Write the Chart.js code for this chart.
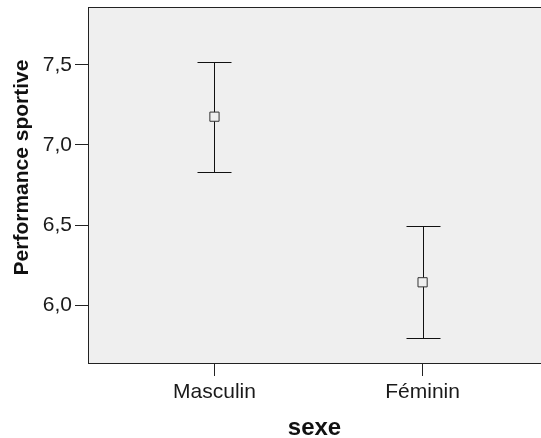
<!DOCTYPE html>
<html>
<head>
<meta charset="utf-8">
<script src="https://cdn.jsdelivr.net/npm/chart.js@4"></script>
<style>
  html, body { margin: 0; padding: 0; background: #fff; }
  #wrap { width: 541px; height: 438px; }
</style>
</head>
<body>
<div id="wrap"><canvas id="errChart"></canvas></div>
<script>
const categories = ['Masculin', 'Féminin'];
const means = [7.177, 6.142];
const upper = [7.52, 6.494];
const lower = [6.833, 5.794];
const yTicks = [6.0, 6.5, 7.0, 7.5];

const FONT = 'Arial, "Liberation Sans", sans-serif';

// gray plot area with a box around it
const plotBox = {
  id: 'plotBox',
  beforeDatasetsDraw(chart) {
    const { ctx, chartArea: a } = chart;
    ctx.save();
    ctx.fillStyle = '#efefef';
    ctx.fillRect(a.left, a.top, a.right - a.left, a.bottom - a.top);
    ctx.strokeStyle = '#222';
    ctx.lineWidth = 1;
    ctx.strokeRect(a.left + 0.5, a.top + 0.5, a.right - a.left, a.bottom - a.top);
    ctx.restore();
  }
};

// whiskers from the upper / lower arrays
const errorBars = {
  id: 'errorBars',
  beforeDatasetsDraw(chart) {
    const { ctx, scales } = chart;
    ctx.save();
    ctx.strokeStyle = '#111';
    ctx.lineWidth = 1;
    categories.forEach((c, i) => {
      const x = Math.round(scales.x.getPixelForValue(i + 1)) + 0.5;
      const yHi = Math.round(scales.y.getPixelForValue(upper[i])) + 0.5;
      const yLo = Math.round(scales.y.getPixelForValue(lower[i])) + 0.5;
      ctx.beginPath();
      ctx.moveTo(x, yHi); ctx.lineTo(x, yLo);
      ctx.moveTo(x - 17, yHi); ctx.lineTo(x + 17, yHi);
      ctx.moveTo(x - 17, yLo); ctx.lineTo(x + 17, yLo);
      ctx.stroke();
    });
    ctx.restore();
  }
};

new Chart(document.getElementById('errChart'), {
  type: 'scatter',
  data: {
    datasets: [{
      data: means.map((m, i) => ({ x: i + 1, y: m })),
      pointStyle: 'rect',
      pointRadius: 6.5,
      pointBackgroundColor: '#efefef',
      pointBorderColor: '#333',
      pointBorderWidth: 1
    }]
  },
  options: {
    responsive: true,
    maintainAspectRatio: false,
    animation: false,
    layout: { autoPadding: false, padding: { top: 7, right: -2, left: 0, bottom: 0 } },
    plugins: { legend: { display: false }, tooltip: { enabled: false } },
    scales: {
      x: {
        type: 'linear',
        min: 0.3923,
        max: 2.569,
        afterBuildTicks: s => { s.ticks = categories.map((c, i) => ({ value: i + 1 })); },
        afterFit: s => { s.height = 75; s.paddingLeft = 0; s.paddingRight = 0; },
        grid: { display: true, drawOnChartArea: false, tickLength: 13, color: '#222' },
        border: { display: false },
        ticks: {
          color: '#1a1a1a',
          font: { family: FONT, size: 21 },
          padding: 4,
          maxRotation: 0,
          callback: v => categories[v - 1]
        },
        title: {
          display: true,
          text: 'sexe',
          color: '#111',
          font: { family: FONT, size: 24, weight: 'bold' },
          padding: { top: 0, bottom: -5 }
        }
      },
      y: {
        min: 5.6375,
        max: 7.8625,
        afterBuildTicks: s => { s.ticks = yTicks.map(v => ({ value: v })); },
        afterFit: s => { s.width = 88; s.paddingTop = 0; s.paddingBottom = 0; },
        grid: { display: true, drawOnChartArea: false, tickLength: 13, color: '#222' },
        border: { display: false },
        ticks: {
          color: '#1a1a1a',
          font: { family: FONT, size: 21 },
          padding: 3,
          callback: v => v.toFixed(1).replace('.', ',')
        },
        title: {
          display: true,
          text: '      Performance sportive',
          color: '#111',
          font: { family: FONT, size: 21, weight: 'bold' },
          padding: { top: 10, bottom: 0 }
        }
      }
    }
  },
  plugins: [plotBox, errorBars]
});
</script>
</body>
</html>
